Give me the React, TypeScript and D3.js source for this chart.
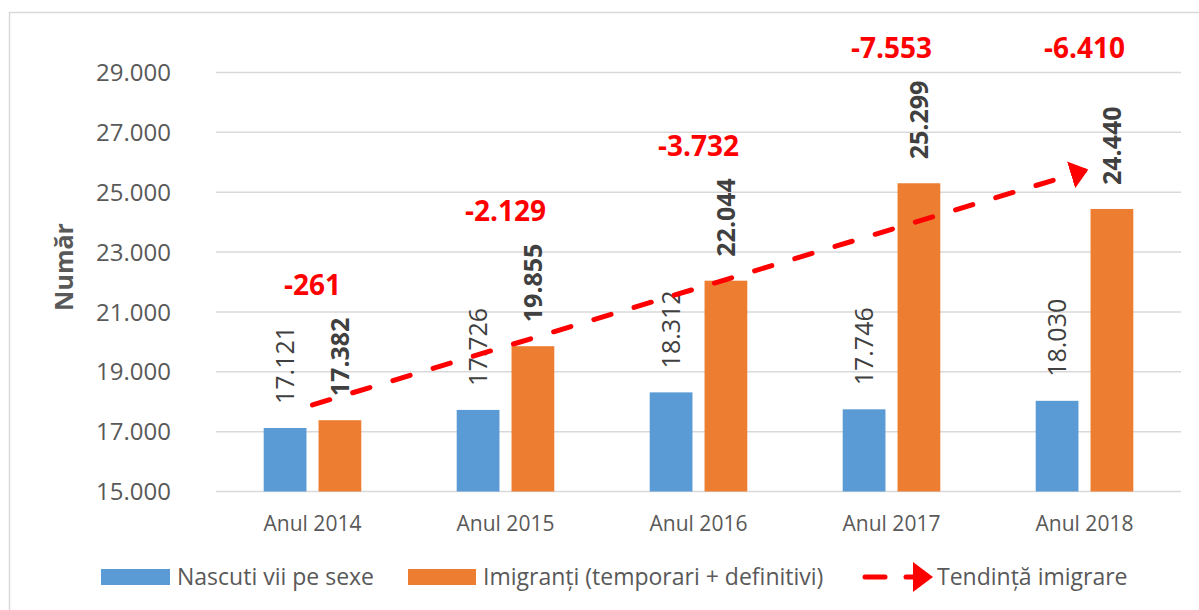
import React from 'react';
import * as d3 from 'd3';

const years = ['Anul 2014', 'Anul 2015', 'Anul 2016', 'Anul 2017', 'Anul 2018'];
const nascuti = [17121, 17726, 18312, 17746, 18030];
const imigranti = [17382, 19855, 22044, 25299, 24440];
const yTicks = [15000, 17000, 19000, 21000, 23000, 25000, 27000, 29000];
const seriesNames = ['Nascuti vii pe sexe', 'Imigranți (temporari + definitivi)', 'Tendință imigrare'];

const W = 1199;
const H = 610;
const FONT = '"Open Sans", "Liberation Sans", sans-serif';
const BLUE = '#5B9BD5';
const ORANGE = '#ED7D31';
const RED = '#FF0000';
const GRID = '#D9D9D9';
const TXT = '#595959';
const LBL = '#404040';

const ro = d3.formatLocale({ decimal: ',', thousands: '.', grouping: [3], currency: ['', ''], minus: '-' });
const fmt = ro.format(',d');

const App = () => {
  const margin = { top: 72.5, right: 18, bottom: 118.5, left: 216 };

  const x = d3.scaleBand<string>().domain(years).range([margin.left, W - margin.right]);
  const inner = d3
    .scaleBand<string>()
    .domain(['n', 'i'])
    .range([0, x.bandwidth()])
    .paddingInner(0.22)
    .paddingOuter(0.87);
  const y = d3.scaleLinear().domain([15000, 29000]).range([H - margin.bottom, margin.top]);

  const cx = (i: number) => (x(years[i]) as number) + x.bandwidth() / 2;

  // liniar trend of the immigrant series (least squares on index)
  const idx = imigranti.map((_, i) => i);
  const mx = d3.mean(idx) as number;
  const my = d3.mean(imigranti) as number;
  const slope =
    d3.sum(idx, (i) => (i - mx) * (imigranti[i] - my)) / d3.sum(idx, (i) => (i - mx) * (i - mx));
  const icpt = my - slope * mx;
  const trend = [0, imigranti.length - 1].map((i) => [cx(i), y(icpt + slope * i)] as [number, number]);
  const trendPath = d3.line()(trend) as string;

  const labelGap = 24;
  const labelLen = 82;

  return (
    <svg
      width={W}
      height={H}
      style={{ position: 'absolute', left: 0, top: 0, background: '#fff', fontFamily: FONT }}
    >
      <defs>
        <marker
          id="arr"
          markerUnits="userSpaceOnUse"
          viewBox="0 0 18 28"
          markerWidth={18}
          markerHeight={28}
          refX={14}
          refY={14}
          orient="auto"
        >
          <path d="M0,0 L18,14 L0,28 Z" fill={RED} />
        </marker>
      </defs>

      <rect x={9.5} y={12.5} width={1210} height={620} fill="none" stroke={GRID} strokeWidth={1.5} />

      {/* grid + y ticks */}
      {yTicks.map((t) => (
        <g key={t}>
          <line x1={margin.left} x2={W - margin.right} y1={y(t)} y2={y(t)} stroke={GRID} strokeWidth={1.5} />
          <text x={171} y={y(t)} dy="0.36em" textAnchor="end" fontSize={24} fill={TXT}>
            {fmt(t)}
          </text>
        </g>
      ))}

      <text
        transform={`translate(73,267) rotate(-90)`}
        textAnchor="middle"
        fontSize={25}
        fontWeight="bold"
        fill={TXT}
      >
        Număr
      </text>

      {/* bars */}
      {years.map((yr, i) => {
        const x0 = x(yr) as number;
        const bx = x0 + (inner('n') as number);
        const ox = x0 + (inner('i') as number);
        const bw = inner.bandwidth();
        return (
          <g key={yr}>
            <rect x={bx} y={y(nascuti[i])} width={bw} height={y(15000) - y(nascuti[i])} fill={BLUE} />
            <rect x={ox} y={y(imigranti[i])} width={bw} height={y(15000) - y(imigranti[i])} fill={ORANGE} />
            <text
              transform={`translate(${bx + bw / 2},${y(nascuti[i]) - labelGap}) rotate(-90)`}
              dy="0.36em"
              fontSize={25}
              fill={LBL}
            >
              {fmt(nascuti[i])}
            </text>
            <text
              transform={`translate(${ox + bw / 2},${y(imigranti[i]) - labelGap}) rotate(-90)`}
              dy="0.36em"
              fontSize={25}
              fontWeight="bold"
              fill={LBL}
            >
              {fmt(imigranti[i])}
            </text>
            <text x={cx(i)} y={531} textAnchor="middle" fontSize={21} fill={TXT}>
              {yr}
            </text>
          </g>
        );
      })}

      {/* difference labels */}
      {years.map((yr, i) => {
        const ref = Math.max(imigranti[i], i > 0 ? imigranti[i - 1] : imigranti[i]);
        return (
          <text
            key={yr}
            x={cx(i)}
            y={y(ref) - labelGap - labelLen - 19}
            textAnchor="middle"
            fontSize={28}
            fontWeight="bold"
            fill={RED}
          >
            {fmt(nascuti[i] - imigranti[i])}
          </text>
        );
      })}

      {/* trend */}
      <path
        d={trendPath}
        fill="none"
        stroke={RED}
        strokeWidth={5}
        strokeDasharray="18 24"
        strokeLinecap="round"
        markerEnd="url(#arr)"
      />

      {/* legend */}
      <g fontSize={23} fill={TXT}>
        <rect x={101} y={569} width={69} height={16} fill={BLUE} />
        <text x={177} y={585}>{seriesNames[0]}</text>
        <rect x={408} y={569} width={68} height={16} fill={ORANGE} />
        <text x={483} y={585}>{seriesNames[1]}</text>
        <line x1={865} x2={885} y1={577} y2={577} stroke={RED} strokeWidth={5} strokeLinecap="round" />
        <line x1={906} x2={914} y1={577} y2={577} stroke={RED} strokeWidth={5} strokeLinecap="round" />
        <path d="M913,562 L933,577 L913,592 Z" fill={RED} />
        <text x={937} y={585}>{seriesNames[2]}</text>
      </g>
    </svg>
  );
};

export default App;
